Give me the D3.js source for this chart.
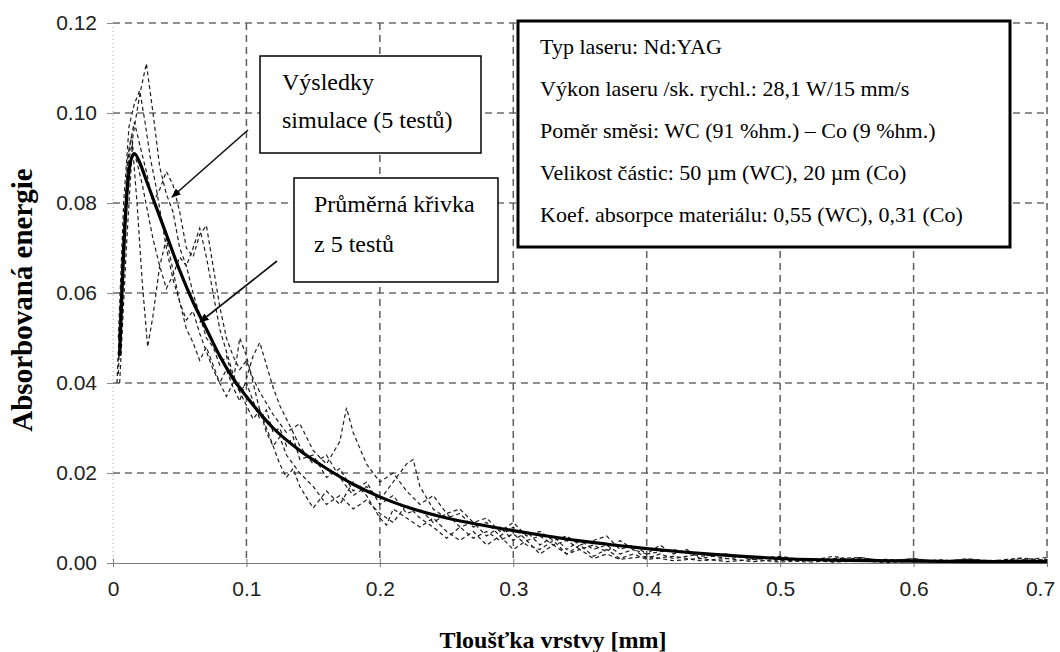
<!DOCTYPE html>
<html>
<head>
<meta charset="utf-8">
<script src="https://cdn.jsdelivr.net/npm/d3@7"></script>
<style>
  body { margin: 0; background: #fff; }
  svg { display: block; }
</style>
</head>
<body>
<svg id="drawing_region"></svg>
<script>
// tick values
const xTicks = [0, 0.1, 0.2, 0.3, 0.4, 0.5, 0.6, 0.7];
const yTicks = [0.00, 0.02, 0.04, 0.06, 0.08, 0.10, 0.12];

// averaged curve (thick line)
const meanCurve = [
  [0.005,0.046],[0.007,0.062],[0.010,0.080],[0.013,0.089],[0.016,0.091],[0.020,0.089],
  [0.025,0.085],[0.030,0.081],[0.040,0.073],[0.050,0.065],[0.060,0.058],[0.070,0.052],
  [0.080,0.046],[0.090,0.041],[0.100,0.037],[0.120,0.030],[0.140,0.025],[0.160,0.021],
  [0.180,0.0175],[0.200,0.0147],[0.225,0.0120],[0.250,0.0100],[0.275,0.0085],[0.300,0.0072],
  [0.325,0.0060],[0.350,0.0049],[0.375,0.0040],[0.400,0.0032],[0.425,0.0025],[0.450,0.0019],
  [0.475,0.0014],[0.500,0.0010],[0.550,0.0006],[0.600,0.0004],[0.650,0.0003],[0.700,0.0003]
];

// five simulation runs (dashed)
const sim1 = [
  [0.005,0.040],[0.010,0.070],[0.015,0.095],[0.020,0.104],[0.025,0.111],[0.030,0.100],[0.035,0.088],
  [0.040,0.082],[0.045,0.078],[0.050,0.070],[0.055,0.066],[0.060,0.060],[0.065,0.055],[0.070,0.050],
  [0.075,0.048],[0.080,0.044],[0.085,0.046],[0.090,0.041],[0.095,0.038],[0.100,0.040],[0.105,0.036],
  [0.110,0.032],[0.115,0.034],[0.120,0.029],[0.125,0.030],[0.130,0.026],[0.135,0.028],[0.140,0.023],
  [0.150,0.024],[0.160,0.019],[0.170,0.021],[0.180,0.016],[0.190,0.018],[0.200,0.013],[0.210,0.015],
  [0.220,0.011],[0.230,0.012],[0.240,0.009],[0.250,0.011],[0.260,0.008],[0.270,0.009],[0.280,0.006],
  [0.290,0.008],[0.300,0.005],[0.310,0.007],[0.320,0.004],[0.330,0.006],[0.340,0.003],[0.350,0.005],
  [0.360,0.003],[0.370,0.004],[0.380,0.002],[0.390,0.003],[0.400,0.001],[0.410,0.002],[0.420,0.001],
  [0.440,0.002],[0.460,0.001],[0.480,0.0015],[0.500,0.0005],[0.520,0.001],[0.540,0.0003],[0.560,0.001],
  [0.580,0.0004],[0.600,0.0008],[0.620,0.0002],[0.640,0.0009],[0.660,0.0003],[0.680,0.0010],[0.700,0.0004]
];
const sim2 = [
  [0.004,0.045],[0.008,0.075],[0.012,0.092],[0.016,0.098],[0.020,0.093],[0.025,0.087],[0.030,0.080],
  [0.035,0.083],[0.040,0.087],[0.045,0.084],[0.050,0.078],[0.055,0.070],[0.060,0.068],[0.065,0.073],
  [0.070,0.075],[0.075,0.066],[0.080,0.057],[0.085,0.050],[0.090,0.046],[0.095,0.043],[0.100,0.045],
  [0.105,0.041],[0.110,0.038],[0.120,0.033],[0.130,0.029],[0.140,0.031],[0.150,0.025],[0.160,0.022],
  [0.170,0.027],[0.175,0.0345],[0.180,0.029],[0.190,0.022],[0.200,0.018],[0.210,0.020],[0.220,0.016],
  [0.230,0.013],[0.240,0.015],[0.250,0.011],[0.260,0.012],[0.270,0.009],[0.280,0.010],[0.290,0.007],
  [0.300,0.009],[0.310,0.006],[0.320,0.007],[0.330,0.005],[0.340,0.006],[0.350,0.004],[0.360,0.005],
  [0.370,0.006],[0.380,0.003],[0.390,0.004],[0.400,0.002],[0.420,0.003],[0.440,0.0015],[0.460,0.002],
  [0.480,0.001],[0.500,0.0015],[0.520,0.0005],[0.540,0.001],[0.560,0.0012],[0.580,0.0005],[0.600,0.0009],
  [0.620,0.0004],[0.640,0.0008],[0.660,0.0005],[0.680,0.0007],[0.700,0.0012]
];
const sim3 = [
  [0.003,0.040],[0.007,0.068],[0.011,0.090],[0.014,0.095],[0.018,0.080],[0.022,0.062],[0.026,0.048],
  [0.030,0.055],[0.035,0.066],[0.040,0.072],[0.045,0.065],[0.050,0.058],[0.055,0.052],[0.060,0.049],
  [0.065,0.045],[0.070,0.048],[0.075,0.044],[0.080,0.040],[0.085,0.037],[0.090,0.040],[0.095,0.050],
  [0.100,0.046],[0.105,0.040],[0.110,0.034],[0.115,0.030],[0.120,0.026],[0.125,0.022],[0.130,0.019],
  [0.135,0.021],[0.140,0.017],[0.150,0.0122],[0.160,0.016],[0.170,0.013],[0.180,0.018],[0.190,0.015],
  [0.200,0.010],[0.205,0.0084],[0.210,0.012],[0.220,0.010],[0.230,0.008],[0.240,0.010],[0.250,0.007],
  [0.260,0.005],[0.270,0.007],[0.280,0.004],[0.290,0.006],[0.300,0.003],[0.310,0.005],[0.320,0.002],
  [0.330,0.004],[0.340,0.002],[0.350,0.003],[0.360,0.001],[0.370,0.002],[0.380,0.0008],[0.400,0.0015],
  [0.420,0.0005],[0.440,0.001],[0.460,0.0003],[0.480,0.0008],[0.500,0.0002],[0.520,0.0006],[0.540,0.0002],
  [0.560,0.0005],[0.580,0.0001],[0.600,0.0004],[0.620,0.0002],[0.640,0.0005],[0.660,0.0002],[0.680,0.0006],
  [0.700,0.0002]
];
const sim4 = [
  [0.004,0.050],[0.008,0.080],[0.012,0.097],[0.016,0.102],[0.020,0.105],[0.024,0.098],[0.028,0.090],
  [0.032,0.084],[0.036,0.077],[0.040,0.070],[0.045,0.063],[0.050,0.058],[0.055,0.054],[0.060,0.056],
  [0.065,0.051],[0.070,0.047],[0.075,0.043],[0.080,0.040],[0.085,0.043],[0.090,0.039],[0.095,0.036],
  [0.100,0.041],[0.105,0.046],[0.110,0.049],[0.115,0.044],[0.120,0.039],[0.125,0.035],[0.130,0.032],
  [0.135,0.029],[0.140,0.026],[0.150,0.022],[0.160,0.024],[0.170,0.019],[0.180,0.015],[0.190,0.017],
  [0.200,0.014],[0.210,0.018],[0.220,0.022],[0.225,0.023],[0.230,0.017],[0.240,0.012],[0.250,0.010],
  [0.260,0.011],[0.270,0.008],[0.280,0.009],[0.290,0.006],[0.300,0.008],[0.310,0.005],[0.320,0.006],
  [0.330,0.004],[0.340,0.005],[0.350,0.003],[0.360,0.004],[0.370,0.0025],[0.380,0.005],[0.390,0.003],
  [0.400,0.002],[0.410,0.004],[0.420,0.002],[0.430,0.003],[0.440,0.001],[0.460,0.002],[0.480,0.0008],
  [0.500,0.0012],[0.520,0.0004],[0.540,0.0015],[0.560,0.0003],[0.580,0.0008],[0.600,0.0003],[0.620,0.0007],
  [0.640,0.0002],[0.660,0.0006],[0.680,0.0004],[0.700,0.0008]
];
const sim5 = [
  [0.004,0.042],[0.008,0.072],[0.011,0.088],[0.014,0.093],[0.018,0.089],[0.022,0.084],[0.026,0.078],
  [0.030,0.072],[0.035,0.066],[0.040,0.061],[0.045,0.064],[0.050,0.068],[0.055,0.066],[0.060,0.070],
  [0.065,0.0744],[0.070,0.068],[0.075,0.060],[0.080,0.052],[0.085,0.047],[0.090,0.042],[0.095,0.038],
  [0.100,0.035],[0.105,0.032],[0.110,0.034],[0.115,0.029],[0.120,0.026],[0.125,0.028],[0.130,0.024],
  [0.140,0.020],[0.150,0.017],[0.160,0.013],[0.170,0.015],[0.180,0.012],[0.190,0.014],[0.200,0.011],
  [0.210,0.009],[0.220,0.013],[0.230,0.010],[0.240,0.008],[0.250,0.0055],[0.260,0.008],[0.270,0.0055],
  [0.280,0.007],[0.290,0.005],[0.300,0.0065],[0.310,0.004],[0.320,0.003],[0.330,0.005],[0.340,0.002],
  [0.350,0.004],[0.360,0.0015],[0.370,0.003],[0.380,0.001],[0.390,0.002],[0.400,0.0008],[0.420,0.0015],
  [0.440,0.0005],[0.460,0.001],[0.480,0.0003],[0.500,0.0008],[0.520,0.0002],[0.540,0.0005],[0.560,0.0012],
  [0.580,0.0004],[0.600,0.0010],[0.620,0.0003],[0.640,0.0009],[0.660,0.0005],[0.680,0.0011],[0.700,0.0006]
];

const simLabel = ["Výsledky", "simulace (5 testů)"];
const meanLabel = ["Průměrná křivka", "z 5 testů"];
const infoLines = [
  "Typ laseru: Nd:YAG",
  "Výkon laseru /sk. rychl.: 28,1 W/15 mm/s",
  "Poměr směsi: WC (91 %hm.) – Co (9 %hm.)",
  "Velikost částic: 50 µm (WC), 20 µm (Co)",
  "Koef. absorpce materiálu: 0,55 (WC), 0,31 (Co)"
];

class AbsorptionChart {

  constructor( config ) {
    this.config = config;
    this.sims = [sim1, sim2, sim3, sim4, sim5];
    this.init();
  }

  init() {
    let self = this;
    const c = self.config;

    self.svg = d3.select( c.parent )
      .attr('width', c.width)
      .attr('height', c.height);

    self.xscale = d3.scaleLinear()
      .domain( [0, 0.7] )
      .range( [c.left, c.right] );

    self.yscale = d3.scaleLinear()
      .domain( [0, 0.12] )
      .range( [c.bottom, c.top] );

    self.line = d3.line()
      .x( d => self.xscale( d[0] ) )
      .y( d => self.yscale( d[1] ) );
  }

  render() {
    let self = this;
    const c = self.config;
    const svg = self.svg;
    const serif = '"Liberation Serif", "Times New Roman", serif';
    const sans = '"Liberation Sans", Arial, sans-serif';

    // grid
    const grid = svg.append('g');
    grid.selectAll('.hgrid')
      .data( yTicks.filter( d => d > 0 ) )
      .enter().append('line')
      .attr('x1', c.left).attr('x2', c.right)
      .attr('y1', d => self.yscale(d)).attr('y2', d => self.yscale(d))
      .attr('stroke', '#6e6e6e').attr('stroke-width', 1.3)
      .attr('stroke-dasharray', '7,5');
    grid.selectAll('.vgrid')
      .data( xTicks.filter( d => d > 0 ) )
      .enter().append('line')
      .attr('x1', d => self.xscale(d)).attr('x2', d => self.xscale(d))
      .attr('y1', c.top).attr('y2', c.bottom)
      .attr('stroke', '#5e5e5e').attr('stroke-width', 1.5)
      .attr('stroke-dasharray', '7,5');
    // left dotted border
    grid.append('line')
      .attr('x1', self.xscale(0)).attr('x2', self.xscale(0))
      .attr('y1', c.top).attr('y2', c.bottom)
      .attr('stroke', '#aaa').attr('stroke-width', 1)
      .attr('stroke-dasharray', '1,3');

    // x axis line with cross ticks
    const xaxis = d3.axisBottom( self.xscale )
      .tickValues( xTicks )
      .tickSize( 0 )
      .tickPadding( 18 )
      .tickFormat( d => d === 0 ? '0' : d3.format('.1f')(d) );
    const xg = svg.append('g')
      .attr('transform', `translate(0,${c.bottom})`)
      .call( xaxis );
    xg.select('.domain').attr('stroke', '#777').attr('stroke-width', 1.2);
    xg.selectAll('.tick line').remove();
    xg.selectAll('.tick').append('line')
      .attr('y1', -4).attr('y2', 4)
      .attr('stroke', '#777');
    xg.selectAll('text')
      .attr('font-family', sans).attr('font-size', 21).attr('fill', '#222')
      .attr('dx', d => d === 0.7 ? -7 : 0);

    const yaxis = d3.axisLeft( self.yscale )
      .tickValues( yTicks )
      .tickSize( 0 )
      .tickPadding( 16 )
      .tickFormat( d3.format('.2f') );
    const yg = svg.append('g')
      .attr('transform', `translate(${c.left},0)`)
      .call( yaxis );
    yg.select('.domain').remove();
    yg.selectAll('.tick').append('line')
      .attr('x1', -6).attr('x2', 6)
      .attr('stroke', '#888');
    yg.selectAll('text')
      .attr('font-family', sans).attr('font-size', 21).attr('fill', '#222');

    // simulation runs
    svg.append('g').selectAll('path')
      .data( self.sims )
      .enter().append('path')
      .attr('d', self.line)
      .attr('fill', 'none')
      .attr('stroke', '#1e1e1e')
      .attr('stroke-width', 1.2)
      .attr('stroke-dasharray', '4,3');

    // averaged curve
    svg.append('path')
      .datum( meanCurve )
      .attr('d', d3.line().curve(d3.curveMonotoneX)
        .x( d => self.xscale(d[0]) ).y( d => self.yscale(d[1]) ))
      .attr('fill', 'none')
      .attr('stroke', '#000')
      .attr('stroke-width', 3.2);

    // axis titles
    svg.append('text')
      .attr('x', 553).attr('y', 648)
      .attr('text-anchor', 'middle')
      .attr('font-family', serif).attr('font-weight', 'bold').attr('font-size', 24)
      .text('Tloušťka vrstvy [mm]');
    svg.append('text')
      .attr('transform', 'translate(32,300) rotate(-90)')
      .attr('text-anchor', 'middle')
      .attr('font-family', serif).attr('font-weight', 'bold').attr('font-size', 29)
      .text('Absorbovaná energie');

    // annotation boxes
    const box = (x, y, w, h, sw, lines, fs, tx, ty0, dy) => {
      const g = svg.append('g');
      g.append('rect')
        .attr('x', x).attr('y', y).attr('width', w).attr('height', h)
        .attr('fill', '#fff').attr('stroke', '#000').attr('stroke-width', sw);
      g.selectAll('text').data( lines ).enter().append('text')
        .attr('x', tx).attr('y', (d, i) => ty0 + i * dy)
        .attr('font-family', serif).attr('font-size', fs).attr('fill', '#000')
        .text( d => d );
    };
    box(260, 56, 221, 97, 1.5, simLabel, 24, 282, 90, 38);
    box(294, 178, 204, 104, 1.5, meanLabel, 24, 314, 212, 40);
    box(518, 21, 492, 226, 3, infoLines, 22, 540, 54, 42);

    // arrows
    svg.append('defs').append('marker')
      .attr('id', 'head')
      .attr('viewBox', '0 0 10 10')
      .attr('refX', 9).attr('refY', 5)
      .attr('markerWidth', 6).attr('markerHeight', 6)
      .attr('orient', 'auto')
      .append('path').attr('d', 'M0,1L10,5L0,9Z').attr('fill', '#000');
    const arrows = [
      [248, 130, 172, 197],
      [277, 261, 200, 322]
    ];
    svg.append('g').selectAll('line')
      .data( arrows )
      .enter().append('line')
      .attr('x1', d => d[0]).attr('y1', d => d[1])
      .attr('x2', d => d[2]).attr('y2', d => d[3])
      .attr('stroke', '#111').attr('stroke-width', 1.6)
      .attr('marker-end', 'url(#head)');
  }
}

const chart = new AbsorptionChart({
  parent: '#drawing_region',
  width: 1060,
  height: 652,
  left: 113, right: 1047,
  top: 23, bottom: 563
});
chart.render();
</script>
</body>
</html>
